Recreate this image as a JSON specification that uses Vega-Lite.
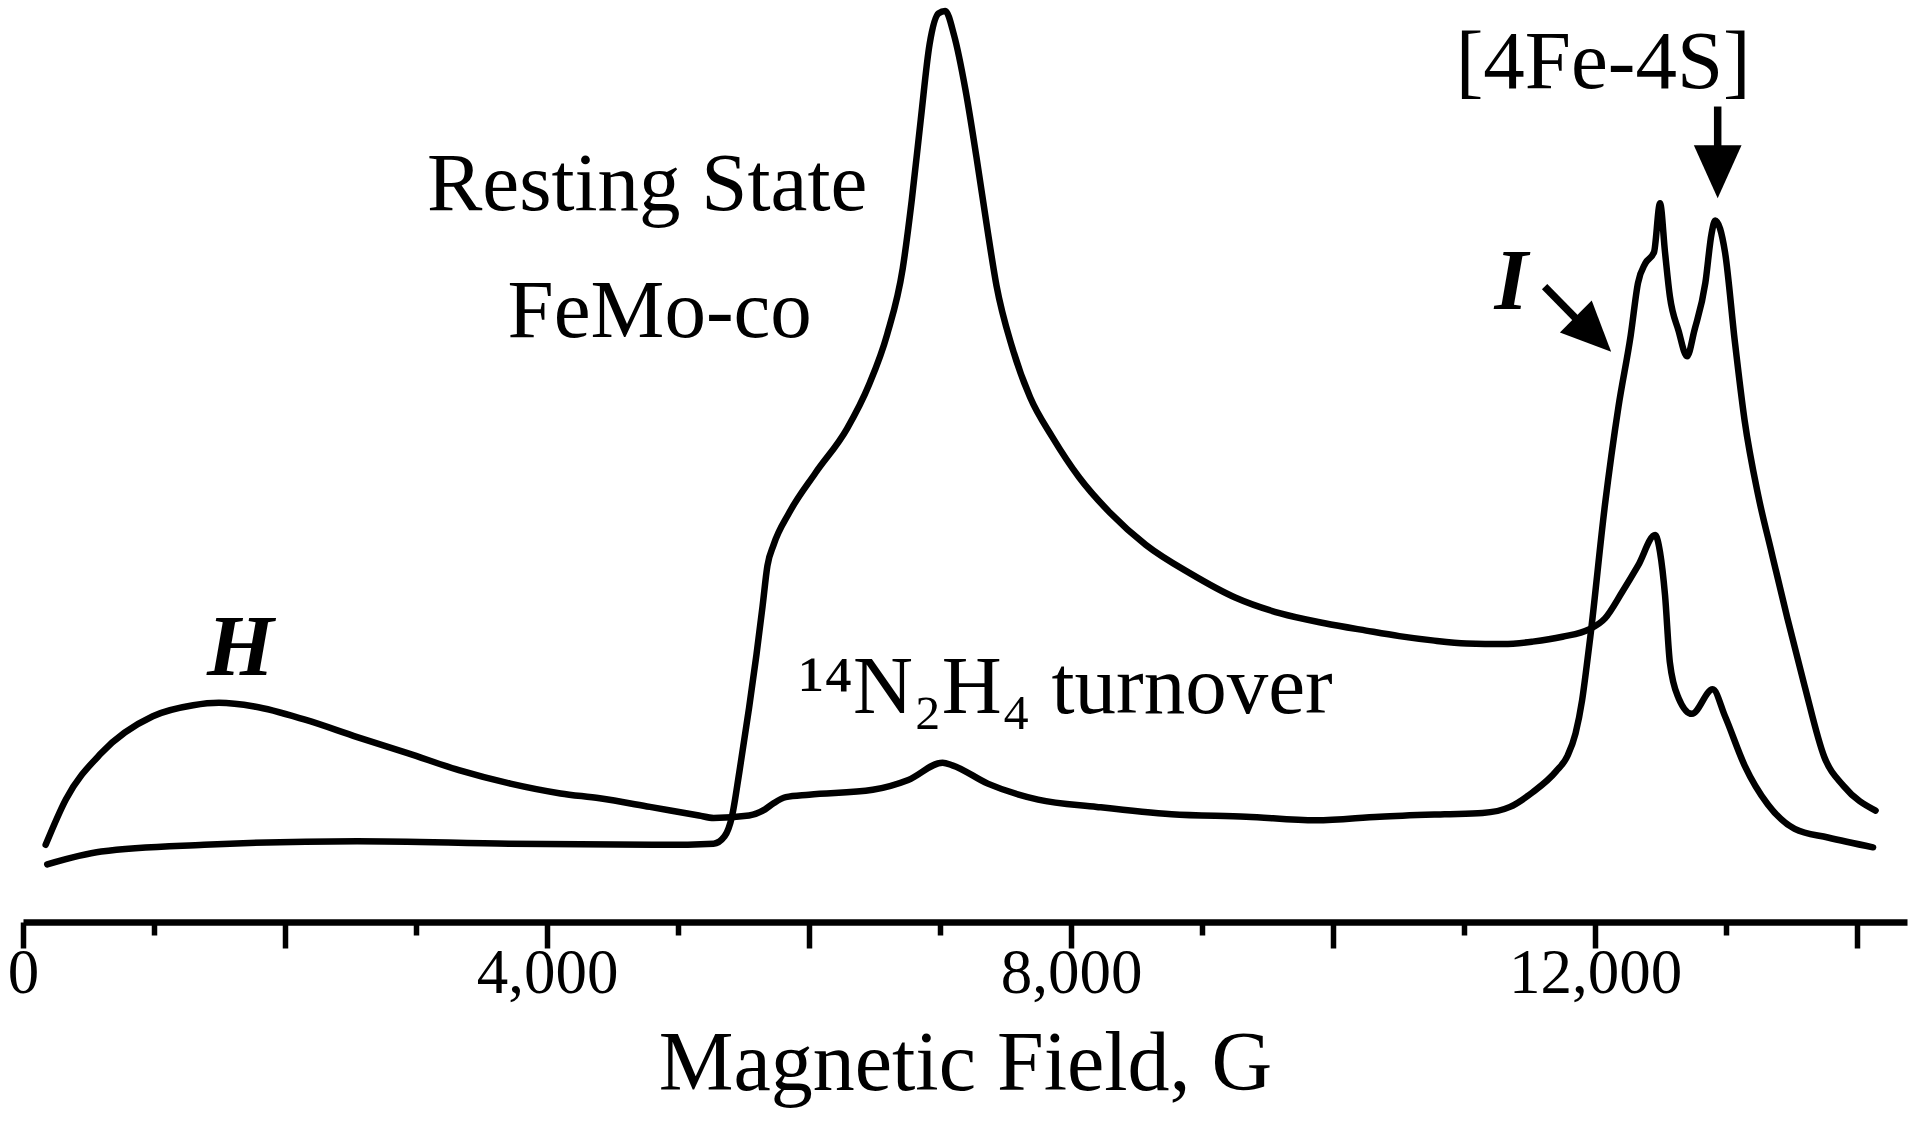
{
  "$schema": "https://vega.github.io/schema/vega-lite/v6.json",
  "width": 1884,
  "height": 922,
  "autosize": {"type": "none"},
  "padding": {"left": 23, "top": 0, "right": 13, "bottom": 215},
  "background": "white",
  "config": {"view": {"stroke": null}, "font": "Liberation Serif"},
  "datasets": {
    "spectra": [
      {"series": "14N2H4 turnover", "field": 173, "intensity": 67},
      {"series": "14N2H4 turnover", "field": 327, "intensity": 104},
      {"series": "14N2H4 turnover", "field": 598, "intensity": 142},
      {"series": "14N2H4 turnover", "field": 991, "intensity": 172},
      {"series": "14N2H4 turnover", "field": 1299, "intensity": 181},
      {"series": "14N2H4 turnover", "field": 1495, "intensity": 183},
      {"series": "14N2H4 turnover", "field": 1766, "intensity": 180},
      {"series": "14N2H4 turnover", "field": 2159, "intensity": 169},
      {"series": "14N2H4 turnover", "field": 2551, "intensity": 155},
      {"series": "14N2H4 turnover", "field": 2935, "intensity": 142},
      {"series": "14N2H4 turnover", "field": 3327, "intensity": 128},
      {"series": "14N2H4 turnover", "field": 3720, "intensity": 117},
      {"series": "14N2H4 turnover", "field": 4103, "intensity": 109},
      {"series": "14N2H4 turnover", "field": 4402, "intensity": 105},
      {"series": "14N2H4 turnover", "field": 4785, "intensity": 98},
      {"series": "14N2H4 turnover", "field": 5159, "intensity": 91},
      {"series": "14N2H4 turnover", "field": 5271, "intensity": 89},
      {"series": "14N2H4 turnover", "field": 5542, "intensity": 91},
      {"series": "14N2H4 turnover", "field": 5664, "intensity": 96},
      {"series": "14N2H4 turnover", "field": 5729, "intensity": 101},
      {"series": "14N2H4 turnover", "field": 5822, "intensity": 106},
      {"series": "14N2H4 turnover", "field": 6000, "intensity": 108},
      {"series": "14N2H4 turnover", "field": 6486, "intensity": 112},
      {"series": "14N2H4 turnover", "field": 6757, "intensity": 120},
      {"series": "14N2H4 turnover", "field": 7019, "intensity": 134},
      {"series": "14N2H4 turnover", "field": 7093, "intensity": 132},
      {"series": "14N2H4 turnover", "field": 7364, "intensity": 117},
      {"series": "14N2H4 turnover", "field": 7748, "intensity": 104},
      {"series": "14N2H4 turnover", "field": 8196, "intensity": 98},
      {"series": "14N2H4 turnover", "field": 8766, "intensity": 92},
      {"series": "14N2H4 turnover", "field": 9336, "intensity": 90},
      {"series": "14N2H4 turnover", "field": 9869, "intensity": 87},
      {"series": "14N2H4 turnover", "field": 10355, "intensity": 90},
      {"series": "14N2H4 turnover", "field": 10850, "intensity": 92},
      {"series": "14N2H4 turnover", "field": 11140, "intensity": 93},
      {"series": "14N2H4 turnover", "field": 11350, "intensity": 98},
      {"series": "14N2H4 turnover", "field": 11523, "intensity": 110},
      {"series": "14N2H4 turnover", "field": 11701, "intensity": 127},
      {"series": "14N2H4 turnover", "field": 11790, "intensity": 140},
      {"series": "14N2H4 turnover", "field": 11850, "intensity": 158},
      {"series": "14N2H4 turnover", "field": 11900, "intensity": 185},
      {"series": "14N2H4 turnover", "field": 11935, "intensity": 213},
      {"series": "14N2H4 turnover", "field": 11963, "intensity": 237},
      {"series": "14N2H4 turnover", "field": 12075, "intensity": 345},
      {"series": "14N2H4 turnover", "field": 12178, "intensity": 425},
      {"series": "14N2H4 turnover", "field": 12271, "intensity": 483},
      {"series": "14N2H4 turnover", "field": 12327, "intensity": 526},
      {"series": "14N2H4 turnover", "field": 12383, "intensity": 542},
      {"series": "14N2H4 turnover", "field": 12449, "intensity": 551},
      {"series": "14N2H4 turnover", "field": 12495, "intensity": 591},
      {"series": "14N2H4 turnover", "field": 12533, "intensity": 551},
      {"series": "14N2H4 turnover", "field": 12570, "intensity": 515},
      {"series": "14N2H4 turnover", "field": 12636, "intensity": 487},
      {"series": "14N2H4 turnover", "field": 12701, "intensity": 466},
      {"series": "14N2H4 turnover", "field": 12757, "intensity": 487},
      {"series": "14N2H4 turnover", "field": 12841, "intensity": 526},
      {"series": "14N2H4 turnover", "field": 12888, "intensity": 566},
      {"series": "14N2H4 turnover", "field": 12916, "intensity": 577},
      {"series": "14N2H4 turnover", "field": 12991, "intensity": 551},
      {"series": "14N2H4 turnover", "field": 13065, "intensity": 479},
      {"series": "14N2H4 turnover", "field": 13140, "intensity": 414},
      {"series": "14N2H4 turnover", "field": 13243, "intensity": 353},
      {"series": "14N2H4 turnover", "field": 13346, "intensity": 306},
      {"series": "14N2H4 turnover", "field": 13467, "intensity": 252},
      {"series": "14N2H4 turnover", "field": 13598, "intensity": 197},
      {"series": "14N2H4 turnover", "field": 13748, "intensity": 139},
      {"series": "14N2H4 turnover", "field": 13897, "intensity": 115},
      {"series": "14N2H4 turnover", "field": 14140, "intensity": 95},
      {"series": "Resting State FeMo-co", "field": 185, "intensity": 51},
      {"series": "Resting State FeMo-co", "field": 598, "intensity": 61.5},
      {"series": "Resting State FeMo-co", "field": 1383, "intensity": 67},
      {"series": "Resting State FeMo-co", "field": 2551, "intensity": 70},
      {"series": "Resting State FeMo-co", "field": 3710, "intensity": 68},
      {"series": "Resting State FeMo-co", "field": 4879, "intensity": 67},
      {"series": "Resting State FeMo-co", "field": 5271, "intensity": 68},
      {"series": "Resting State FeMo-co", "field": 5355, "intensity": 74},
      {"series": "Resting State FeMo-co", "field": 5411, "intensity": 90},
      {"series": "Resting State FeMo-co", "field": 5467, "intensity": 126},
      {"series": "Resting State FeMo-co", "field": 5542, "intensity": 179},
      {"series": "Resting State FeMo-co", "field": 5598, "intensity": 222},
      {"series": "Resting State FeMo-co", "field": 5645, "intensity": 262},
      {"series": "Resting State FeMo-co", "field": 5682, "intensity": 295},
      {"series": "Resting State FeMo-co", "field": 5729, "intensity": 312},
      {"series": "Resting State FeMo-co", "field": 5847, "intensity": 338},
      {"series": "Resting State FeMo-co", "field": 6047, "intensity": 370.5},
      {"series": "Resting State FeMo-co", "field": 6290, "intensity": 407},
      {"series": "Resting State FeMo-co", "field": 6458, "intensity": 443},
      {"series": "Resting State FeMo-co", "field": 6596, "intensity": 484},
      {"series": "Resting State FeMo-co", "field": 6715, "intensity": 538},
      {"series": "Resting State FeMo-co", "field": 6783, "intensity": 593},
      {"series": "Resting State FeMo-co", "field": 6852, "intensity": 659},
      {"series": "Resting State FeMo-co", "field": 6920, "intensity": 721},
      {"series": "Resting State FeMo-co", "field": 6988, "intensity": 746},
      {"series": "Resting State FeMo-co", "field": 7039, "intensity": 748},
      {"series": "Resting State FeMo-co", "field": 7107, "intensity": 728},
      {"series": "Resting State FeMo-co", "field": 7193, "intensity": 684},
      {"series": "Resting State FeMo-co", "field": 7277, "intensity": 629},
      {"series": "Resting State FeMo-co", "field": 7364, "intensity": 567.5},
      {"series": "Resting State FeMo-co", "field": 7430, "intensity": 524},
      {"series": "Resting State FeMo-co", "field": 7551, "intensity": 473},
      {"series": "Resting State FeMo-co", "field": 7687, "intensity": 432.5},
      {"series": "Resting State FeMo-co", "field": 7857, "intensity": 400},
      {"series": "Resting State FeMo-co", "field": 8062, "intensity": 367},
      {"series": "Resting State FeMo-co", "field": 8299, "intensity": 338},
      {"series": "Resting State FeMo-co", "field": 8570, "intensity": 312},
      {"series": "Resting State FeMo-co", "field": 8912, "intensity": 288.5},
      {"series": "Resting State FeMo-co", "field": 9252, "intensity": 269},
      {"series": "Resting State FeMo-co", "field": 9598, "intensity": 256},
      {"series": "Resting State FeMo-co", "field": 9935, "intensity": 248},
      {"series": "Resting State FeMo-co", "field": 10252, "intensity": 242},
      {"series": "Resting State FeMo-co", "field": 10505, "intensity": 237.5},
      {"series": "Resting State FeMo-co", "field": 10757, "intensity": 234},
      {"series": "Resting State FeMo-co", "field": 11019, "intensity": 231.5},
      {"series": "Resting State FeMo-co", "field": 11300, "intensity": 231},
      {"series": "Resting State FeMo-co", "field": 11523, "intensity": 233},
      {"series": "Resting State FeMo-co", "field": 11750, "intensity": 237},
      {"series": "Resting State FeMo-co", "field": 11953, "intensity": 243},
      {"series": "Resting State FeMo-co", "field": 12075, "intensity": 252},
      {"series": "Resting State FeMo-co", "field": 12206, "intensity": 273.5},
      {"series": "Resting State FeMo-co", "field": 12327, "intensity": 295},
      {"series": "Resting State FeMo-co", "field": 12458, "intensity": 320},
      {"series": "Resting State FeMo-co", "field": 12495, "intensity": 306},
      {"series": "Resting State FeMo-co", "field": 12533, "intensity": 271},
      {"series": "Resting State FeMo-co", "field": 12570, "intensity": 216},
      {"series": "Resting State FeMo-co", "field": 12636, "intensity": 187},
      {"series": "Resting State FeMo-co", "field": 12738, "intensity": 174},
      {"series": "Resting State FeMo-co", "field": 12897, "intensity": 194},
      {"series": "Resting State FeMo-co", "field": 12991, "intensity": 172},
      {"series": "Resting State FeMo-co", "field": 13140, "intensity": 132},
      {"series": "Resting State FeMo-co", "field": 13318, "intensity": 100},
      {"series": "Resting State FeMo-co", "field": 13523, "intensity": 80},
      {"series": "Resting State FeMo-co", "field": 13776, "intensity": 73},
      {"series": "Resting State FeMo-co", "field": 14121, "intensity": 65}
    ],
    "labels": [
      {"kind": "state", "label": "Resting State", "field": 4764, "intensity": 585.5},
      {"kind": "state", "label": "FeMo-co", "field": 4860, "intensity": 481.5},
      {"kind": "state", "label": "¹⁴N₂H₄ turnover", "field": 7960, "intensity": 174.7},
      {"kind": "state", "label": "[4Fe-4S]", "field": 12061, "intensity": 685},
      {"kind": "intermediate", "label": "H", "field": 1660, "intensity": 205.8},
      {"kind": "intermediate", "label": "I", "field": 11359, "intensity": 505}
    ],
    "arrows": [
      {"target": "[4Fe-4S]", "field": 12935, "intensity": 670, "field2": 12935, "intensity2": 630},
      {"target": "I", "field": 11614, "intensity": 522.9, "field2": 11880, "intensity2": 494}
    ],
    "heads": [
      {"target": "[4Fe-4S]", "field": 12935, "intensity": 616.8},
      {"target": "I", "field": 11987, "intensity": 484.1}
    ]
  },
  "layer": [
    {
      "data": {"name": "spectra"},
      "mark": {"type": "line", "color": "black", "strokeWidth": 6.5, "strokeJoin": "round", "strokeCap": "round", "interpolate": "monotone"},
      "encoding": {
        "x": {
          "field": "field", "type": "quantitative",
          "scale": {"domain": [0, 14380], "nice": false, "zero": false},
          "axis": {
            "values": [0, 1000, 2000, 3000, 4000, 5000, 6000, 7000, 8000, 9000, 10000, 11000, 12000, 13000, 14000],
            "title": "Magnetic Field, G",
            "titleFont": "Liberation Serif", "titleFontSize": 84, "titleFontWeight": "normal", "titleColor": "black", "titlePadding": 18,
            "labelFont": "Liberation Serif", "labelFontSize": 63, "labelColor": "black", "labelPadding": -6, "labelLimit": 500,
            "labelExpr": "datum.value % 4000 === 0 ? format(datum.value, ',') : ''",
            "labelFlush": false, "labelOverlap": false,
            "domainColor": "black", "domainWidth": 6.5,
            "tickColor": "black", "tickWidth": 5.5,
            "tickSize": {"condition": {"test": "datum.value % 2000 === 0", "value": 26}, "value": 13},
            "grid": false
          }
        },
        "y": {
          "field": "intensity", "type": "quantitative",
          "scale": {"domain": [4, 757], "nice": false, "zero": false},
          "axis": null
        },
        "detail": {"field": "series"}
      }
    },
    {
      "data": {"name": "labels"},
      "transform": [{"filter": "datum.kind === 'state'"}],
      "mark": {"type": "text", "font": "Liberation Serif", "fontSize": 83, "align": "center", "baseline": "alphabetic", "color": "black"},
      "encoding": {
        "x": {"field": "field", "type": "quantitative"},
        "y": {"field": "intensity", "type": "quantitative"},
        "text": {"field": "label"}
      }
    },
    {
      "data": {"name": "labels"},
      "transform": [{"filter": "datum.kind === 'intermediate'"}],
      "mark": {"type": "text", "font": "Liberation Serif", "fontSize": 86, "fontStyle": "italic", "fontWeight": "bold", "align": "center", "baseline": "alphabetic", "color": "black"},
      "encoding": {
        "x": {"field": "field", "type": "quantitative"},
        "y": {"field": "intensity", "type": "quantitative"},
        "text": {"field": "label"}
      }
    },
    {
      "data": {"name": "arrows"},
      "mark": {"type": "rule", "color": "black", "strokeWidth": 7.5},
      "encoding": {
        "x": {"field": "field", "type": "quantitative"},
        "y": {"field": "intensity", "type": "quantitative"},
        "x2": {"field": "field2"},
        "y2": {"field": "intensity2"}
      }
    },
    {
      "data": {"name": "heads"},
      "transform": [{"filter": "datum.target === '[4Fe-4S]'"}],
      "mark": {"type": "point", "shape": "M-0.9,-1L0.9,-1L0,1Z", "size": 2809, "filled": true, "color": "black", "opacity": 1, "strokeWidth": 0},
      "encoding": {
        "x": {"field": "field", "type": "quantitative"},
        "y": {"field": "intensity", "type": "quantitative"}
      }
    },
    {
      "data": {"name": "heads"},
      "transform": [{"filter": "datum.target === 'I'"}],
      "mark": {"type": "point", "shape": "M-0.9,-1L0.9,-1L0,1Z", "size": 2500, "angle": 315, "filled": true, "color": "black", "opacity": 1, "strokeWidth": 0},
      "encoding": {
        "x": {"field": "field", "type": "quantitative"},
        "y": {"field": "intensity", "type": "quantitative"}
      }
    }
  ]
}
